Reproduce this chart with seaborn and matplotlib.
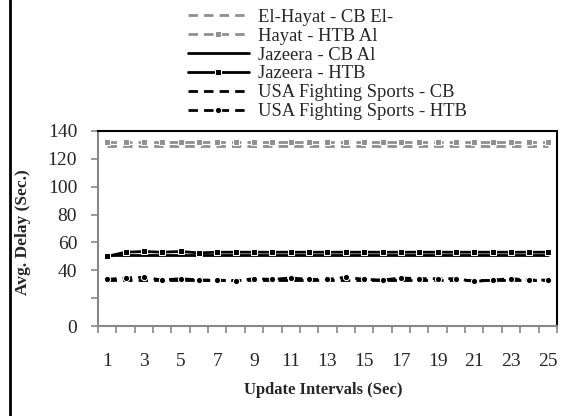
import matplotlib
matplotlib.use("Agg")
import matplotlib.pyplot as plt
from matplotlib.lines import Line2D
import seaborn as sns
import numpy as np

intervals = list(range(1, 26))

elhayat_cb = [129] * 25
elhayat_htb = [132, 132, 132, 132, 132, 132, 132, 132, 132, 132, 132, 132, 132,
               132, 132, 132, 132, 132, 132, 132, 132, 132, 132, 132, 132]
jazeera_cb = [51] * 25
jazeera_htb = [50, 53, 53.5, 53, 53.5, 52.5, 53, 53, 53, 53, 53, 53, 53,
               53, 53, 53, 53, 53, 53, 53, 53, 53, 53, 53, 53]
usa_cb = [33] * 25
usa_htb = [33.5, 34.5, 35, 33, 34, 33, 33, 32.5, 34, 33.5, 34.5, 33.5, 33.5,
           35, 33.5, 33, 34.5, 34, 34, 34, 32, 33, 34, 33, 33]

labels = ["El-Hayat - CB El-", "Hayat - HTB Al", "Jazeera - CB Al",
          "Jazeera - HTB", "USA Fighting Sports - CB", "USA Fighting Sports - HTB"]
series = [elhayat_cb, elhayat_htb, jazeera_cb, jazeera_htb, usa_cb, usa_htb]

y_ticks = [0, 20, 40, 60, 80, 100, 120, 140]
y_tick_labels = ["0", "", "40", "60", "80", "100", "120", "140"]
x_tick_labels = [str(v) for v in range(1, 26, 2)]

sns.set_theme(style="white")
plt.rcParams['font.family'] = ['Liberation Serif', 'DejaVu Serif']

fig = plt.figure(figsize=(5.68, 4.16), dpi=100)
ax = fig.add_axes([0.1725, 0.2163, 0.808, 0.4688])

gray = "#8f8f8f"
dash = (0, (3.4, 2.2))
styles = [
    dict(color=gray, linestyle=dash, marker=None),
    dict(color=gray, linestyle=dash, marker="s", markersize=4.5),
    dict(color="black", linestyle="-", marker=None),
    dict(color="black", linestyle="-", marker="s", markersize=4.5),
    dict(color="black", linestyle=dash, marker=None),
    dict(color="black", linestyle=dash, marker="o", markersize=4.5),
]

for vals, lab, st in zip(series, labels, styles):
    sns.lineplot(x=intervals, y=vals, ax=ax, label=lab, linewidth=2.0, **st)

ax.set_xlim(0.5, 25.5)
ax.set_ylim(0, 140)
ax.set_yticks(y_ticks)
ax.set_yticklabels(y_tick_labels, fontsize=14)
ax.set_xticks(list(range(1, 26, 2)))
ax.set_xticklabels(x_tick_labels, fontsize=14)
ax.set_xticks(np.arange(0.5, 26, 1.0), minor=True)
ax.tick_params(axis="x", which="major", length=0, pad=19.5)
ax.tick_params(axis="x", which="minor", length=5, width=1.2, color="#888888",
               direction="out", bottom=True)
ax.tick_params(axis="y", which="major", length=5, width=1.2, color="#888888",
               direction="out", left=True, pad=10)

for side in ["left", "bottom"]:
    ax.spines[side].set_color("#888888")
    ax.spines[side].set_linewidth(1.5)
for side in ["top", "right"]:
    ax.spines[side].set_color("black")
    ax.spines[side].set_linewidth(1.5)

ax.set_xlabel("Update Intervals (Sec)", fontsize=12, fontweight="bold")
ax.set_ylabel("Avg. Delay (Sec.)", fontsize=12.5, fontweight="bold")
ax.xaxis.set_label_coords(0.49, -0.287)
ax.yaxis.set_label_coords(-0.146, 0.48)

handles, labs = ax.get_legend_handles_labels()
ax.legend_.remove()
fig.legend(handles, labs, loc="upper left", bbox_to_anchor=(0.324, 0.988),
           frameon=False, fontsize=13.4, handlelength=3.3, handletextpad=0.5,
           labelspacing=0.1, borderaxespad=0.0, borderpad=0.2)

fig.add_artist(Line2D([10 / 568, 10 / 568], [0, 1], transform=fig.transFigure,
                      color="black", linewidth=2.0))

fig.savefig("out.png", dpi=100)
